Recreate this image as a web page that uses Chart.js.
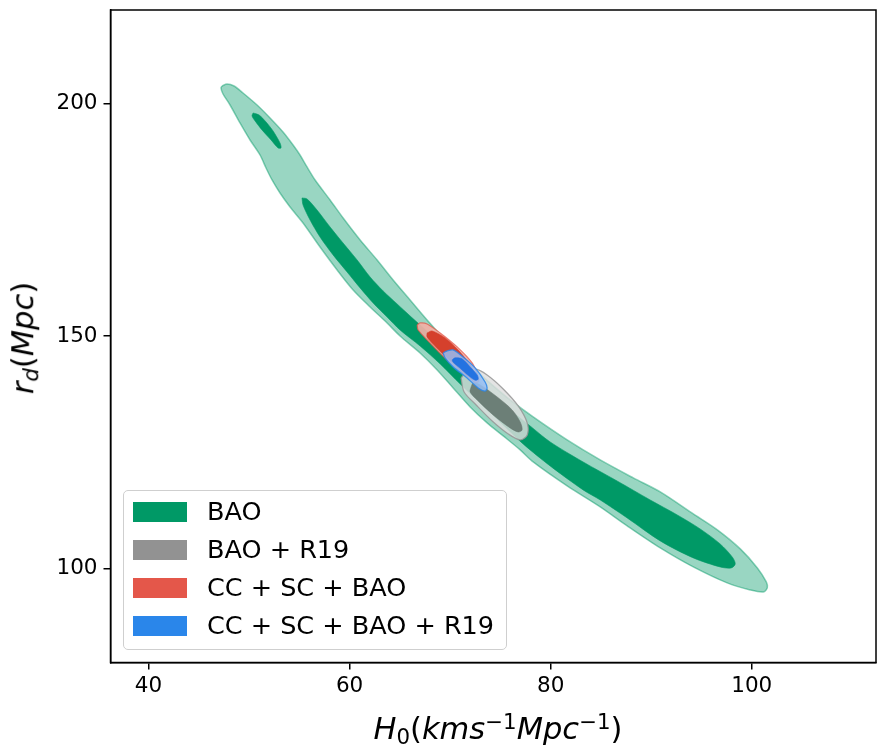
<!DOCTYPE html>
<html>
<head>
<meta charset="utf-8">
<title>H0 – r_d constraints</title>
<script src="https://cdn.jsdelivr.net/npm/chart.js@4.4.1/dist/chart.umd.min.js"></script>
<style>
  html, body { margin:0; padding:0; background:#fff; }
  #wrap { position:relative; width:877px; height:747px; overflow:hidden; font-family:"DejaVu Sans", sans-serif; color:#000; }
  #plot { position:absolute; left:0; top:0; }
  .title { position:absolute; font-size:30.5px; line-height:30.5px; white-space:nowrap; }
  .title i { font-style:italic; }
  .title .sb { font-size:0.7em; position:relative; top:0.22em; }
  .title .sp { font-size:0.7em; position:relative; top:-0.45em; }
  #xTitle { left:498px; top:714px; transform:translateX(-50%); }
  #yTitle { left:25px; top:338px; transform:translate(-50%,-50%) rotate(-90deg); }
  #legend { position:absolute; left:123px; top:490px; width:384px; height:160px; box-sizing:border-box;
            border:1px solid #cfcfcf; border-radius:5px; background:rgba(255,255,255,0.8); }
  .lg-patch { position:absolute; left:9px; width:54px; height:20px; box-sizing:border-box; }
  .lg-text { position:absolute; left:83px; font-size:25.5px; line-height:25.5px; white-space:nowrap; }
</style>
</head>
<body>
<div id="wrap">
  <canvas id="plot" width="877" height="747"></canvas>
  <div id="xTitle" class="title"><i>H</i><span class="sb">0</span>(<i>kms</i><span class="sp">−1</span><i>Mpc</i><span class="sp">−1</span>)</div>
  <div id="yTitle" class="title"><i>r</i><span class="sb"><i>d</i></span>(<i>Mpc</i>)</div>
  <div id="legend"></div>
</div>
<script>
// Axis ranges and ticks
const xRange = [36.22, 112.36];
const yRange = [79.75, 220.21];
const xTicks = [40, 60, 80, 100];
const yTicks = [100, 150, 200];

// Legend entries
const seriesLabels = ['BAO', 'BAO + R19', 'CC + SC + BAO', 'CC + SC + BAO + R19'];
const seriesColors = ['#009966', '#929292', '#e4574a', '#2a86ea'];

// Confidence contours, [H0, r_d] pairs
// BAO: 95% region
const baoOuter = [
  [47.31,203.85],[47.81,204.28],[48.51,203.85],[49.40,202.35],[50.80,199.76],[52.09,196.97],
  [53.38,193.95],[54.38,191.15],[55.07,189.00],[55.77,186.42],[56.57,183.62],[58.06,179.32],
  [59.36,175.44],[61.05,170.71],[62.74,166.40],[64.33,162.10],[66.02,157.79],[67.71,153.49],
  [69.50,149.18],[71.00,145.74],[72.49,142.73],[74.18,139.50],[75.97,136.27],[78.26,132.61],
  [81.64,127.66],[84.93,123.35],[88.22,119.48],[90.90,116.47],[94.19,111.73],[96.58,108.29],
  [98.86,104.20],[100.56,100.11],[101.45,97.10],[101.55,95.81],[101.15,94.94],[99.85,95.37],
  [97.56,96.88],[94.19,100.32],[90.90,104.41],[87.61,109.15],[84.93,113.24],[81.64,117.76],
  [78.26,122.92],[76.97,125.51],[75.28,128.52],[73.68,131.32],[71.99,134.76],[70.30,138.85],
  [68.71,142.73],[67.01,146.38],[65.02,150.04],[63.73,152.84],[62.04,156.29],[60.35,159.94],
  [58.76,164.25],[57.06,169.20],[55.37,174.37],[54.08,177.81],[53.08,180.82],[52.29,183.62],
  [51.69,186.20],[51.09,189.00],[50.10,192.23],[49.10,195.89],[48.11,199.76],[47.41,202.13],
  [47.21,203.42],[47.31,203.85]
];
// BAO: 68% regions
const baoInner = [
  [55.27,179.75],[55.77,179.53],[56.76,177.16],[58.06,173.50],[59.35,170.06],[60.75,166.40],
  [62.04,162.74],[63.34,159.73],[64.73,156.93],[66.02,154.35],[68.01,150.47],[70.00,146.60],
  [71.99,142.29],[73.98,137.99],[75.97,134.12],[77.96,130.67],[79.95,127.23],[83.23,122.92],
  [86.61,118.83],[89.90,114.74],[92.59,111.52],[94.87,108.50],[96.86,105.27],[98.06,102.48],
  [98.36,100.97],[97.96,100.11],[96.86,100.32],[94.19,102.26],[90.90,105.92],[87.61,110.87],
  [84.93,114.74],[83.23,116.90],[79.95,122.06],[77.26,126.80],[74.98,131.53],[72.99,135.62],
  [71.00,139.71],[69.01,144.02],[67.01,147.89],[65.02,151.33],[63.73,154.13],[62.34,157.15],
  [61.05,160.37],[59.75,163.82],[58.36,167.48],[57.06,171.35],[56.07,175.01],[55.37,178.24],
  [55.27,179.75]
];
const baoIsland = [
  [50.40,198.04],[51.00,197.61],[51.69,196.10],[52.39,194.17],[53.08,191.58],[53.18,190.51],
  [52.89,190.51],[52.19,192.23],[51.29,194.38],[50.60,196.32],[50.30,197.40],[50.40,198.04]
];
// BAO + R19
const grayOuter = [
  [71.09,141.00],[71.69,142.51],[72.49,142.94],[73.68,141.65],[75.28,138.64],[76.77,134.98],
  [77.67,131.32],[77.67,128.73],[76.97,127.66],[75.78,128.95],[74.18,131.75],[72.59,135.19],
  [71.39,137.99],[71.09,141.00]
];
const grayInner = [
  [72.09,139.07],[72.29,139.93],[72.99,139.50],[74.68,136.91],[76.17,134.12],[76.97,131.53],
  [77.16,129.81],[76.77,129.38],[75.97,130.24],[74.28,133.04],[72.69,136.27],[71.99,138.00],
  [72.09,139.07]
];
// CC + SC + BAO
const redOuter = [
  [66.72,152.41],[67.01,152.84],[67.71,152.63],[69.01,150.69],[70.70,147.68],[72.19,144.23],
  [72.79,141.22],[72.79,140.14],[72.39,140.14],[71.29,142.08],[69.70,144.88],[68.01,148.54],
  [66.82,151.33],[66.72,152.41]
];
const redInner = [
  [67.71,150.69],[68.21,151.12],[69.50,149.61],[70.80,147.03],[71.99,143.80],[72.59,141.43],
  [72.49,140.57],[71.99,141.00],[70.80,143.16],[69.50,145.74],[68.31,148.32],[67.71,149.83],
  [67.71,150.69]
];
// CC + SC + BAO + R19
const blueOuter = [
  [69.30,146.38],[69.70,146.81],[70.30,147.03],[71.29,145.52],[72.49,143.16],[73.48,140.14],
  [73.68,138.85],[73.48,138.18],[72.79,138.85],[71.69,141.00],[70.30,143.37],[69.50,145.33],
  [69.30,146.38]
];
const blueInner = [
  [70.20,144.88],[70.50,145.33],[71.19,145.11],[71.99,143.37],[72.69,141.65],[72.79,140.72],
  [72.49,140.50],[71.79,141.57],[71.00,143.08],[70.30,144.37],[70.20,144.88]
];

// Drawing sequence (first entry painted first)
const layers = [
  { pts: baoOuter,  fill: 'rgba(0,153,102,0.40)',   line: 'rgba(0,153,102,0.45)',  w: 1.5 },
  { pts: baoInner,  fill: '#009966',                line: '#009966',               w: 0.6 },
  { pts: baoIsland, fill: '#009966',                line: '#009966',               w: 0.6 },
  { pts: grayOuter, fill: 'rgba(222,222,222,0.82)', line: 'rgba(150,150,150,0.85)', w: 1.3 },
  { pts: grayInner, fill: 'rgba(100,118,110,0.90)', line: 'rgba(100,118,110,0.9)', w: 0.6 },
  { pts: redOuter,  fill: 'rgba(242,176,166,0.92)', line: 'rgba(228,87,74,0.75)',  w: 1.2 },
  { pts: redInner,  fill: 'rgba(212,58,38,0.95)',   line: 'rgba(212,58,38,0.95)',  w: 0.6 },
  { pts: blueOuter, fill: 'rgba(150,190,245,0.85)', line: 'rgba(42,134,234,0.85)', w: 1.3 },
  { pts: blueInner, fill: 'rgba(30,112,226,0.95)',  line: 'rgba(30,112,226,0.95)', w: 0.6 }
];

const datasets = layers.map((L, i) => ({
  data: L.pts.map(p => ({ x: p[0], y: p[1] })),
  showLine: true,
  fill: 'shape',
  backgroundColor: L.fill,
  borderColor: L.line,
  borderWidth: L.w,
  pointRadius: 0,
  pointHoverRadius: 0,
  tension: 0.3,
  order: layers.length - i
}));

// Black frame on all four sides of the plotting area
const framePlugin = {
  id: 'frame',
  afterDraw(chart) {
    const { ctx, chartArea: a } = chart;
    ctx.save();
    ctx.strokeStyle = '#000';
    ctx.lineWidth = 1.5;
    ctx.strokeRect(a.left, a.top, a.right - a.left, a.bottom - a.top);
    ctx.restore();
  }
};

Chart.defaults.font.family = '"DejaVu Sans", sans-serif';
Chart.defaults.color = '#000';

const tickFont = { family: '"DejaVu Sans", sans-serif', size: 21.5 };

function noEdgePadding(s) {
  s.paddingTop = 0; s.paddingBottom = 0; s.paddingLeft = 0; s.paddingRight = 0;
}

new Chart(document.getElementById('plot'), {
  type: 'scatter',
  data: { datasets },
  options: {
    responsive: false,
    animation: false,
    events: [],
    layout: { padding: { top: 10, right: 1, left: 0, bottom: 0 } },
    plugins: { legend: { display: false }, tooltip: { enabled: false } },
    scales: {
      x: {
        type: 'linear', min: xRange[0], max: xRange[1],
        afterBuildTicks: s => { s.ticks = xTicks.map(v => ({ value: v })); },
        afterFit: s => { s.height = 84.5; noEdgePadding(s); },
        grid: { drawOnChartArea: false, drawTicks: true, tickLength: 7, color: '#000', lineWidth: 1.5 },
        border: { display: true, color: '#000', width: 1.5 },
        ticks: { color: '#000', font: tickFont, padding: 4, maxRotation: 0, autoSkip: false }
      },
      y: {
        type: 'linear', min: yRange[0], max: yRange[1],
        afterBuildTicks: s => { s.ticks = yTicks.map(v => ({ value: v })); },
        afterFit: s => { s.width = 110.5; noEdgePadding(s); },
        grid: { drawOnChartArea: false, drawTicks: true, tickLength: 7, color: '#000', lineWidth: 1.5 },
        border: { display: true, color: '#000', width: 1.5 },
        ticks: { color: '#000', font: tickFont, padding: 6, autoSkip: false }
      }
    }
  },
  plugins: [framePlugin]
});

// Legend built from the series labels and colours
const legend = document.getElementById('legend');
seriesLabels.forEach((label, i) => {
  const patch = document.createElement('div');
  patch.className = 'lg-patch';
  patch.style.top = (11 + 38 * i) + 'px';
  patch.style.background = seriesColors[i];
  legend.appendChild(patch);
  const txt = document.createElement('div');
  txt.className = 'lg-text';
  txt.style.top = (8 + 38 * i) + 'px';
  txt.textContent = label;
  legend.appendChild(txt);
});
</script>
</body>
</html>
